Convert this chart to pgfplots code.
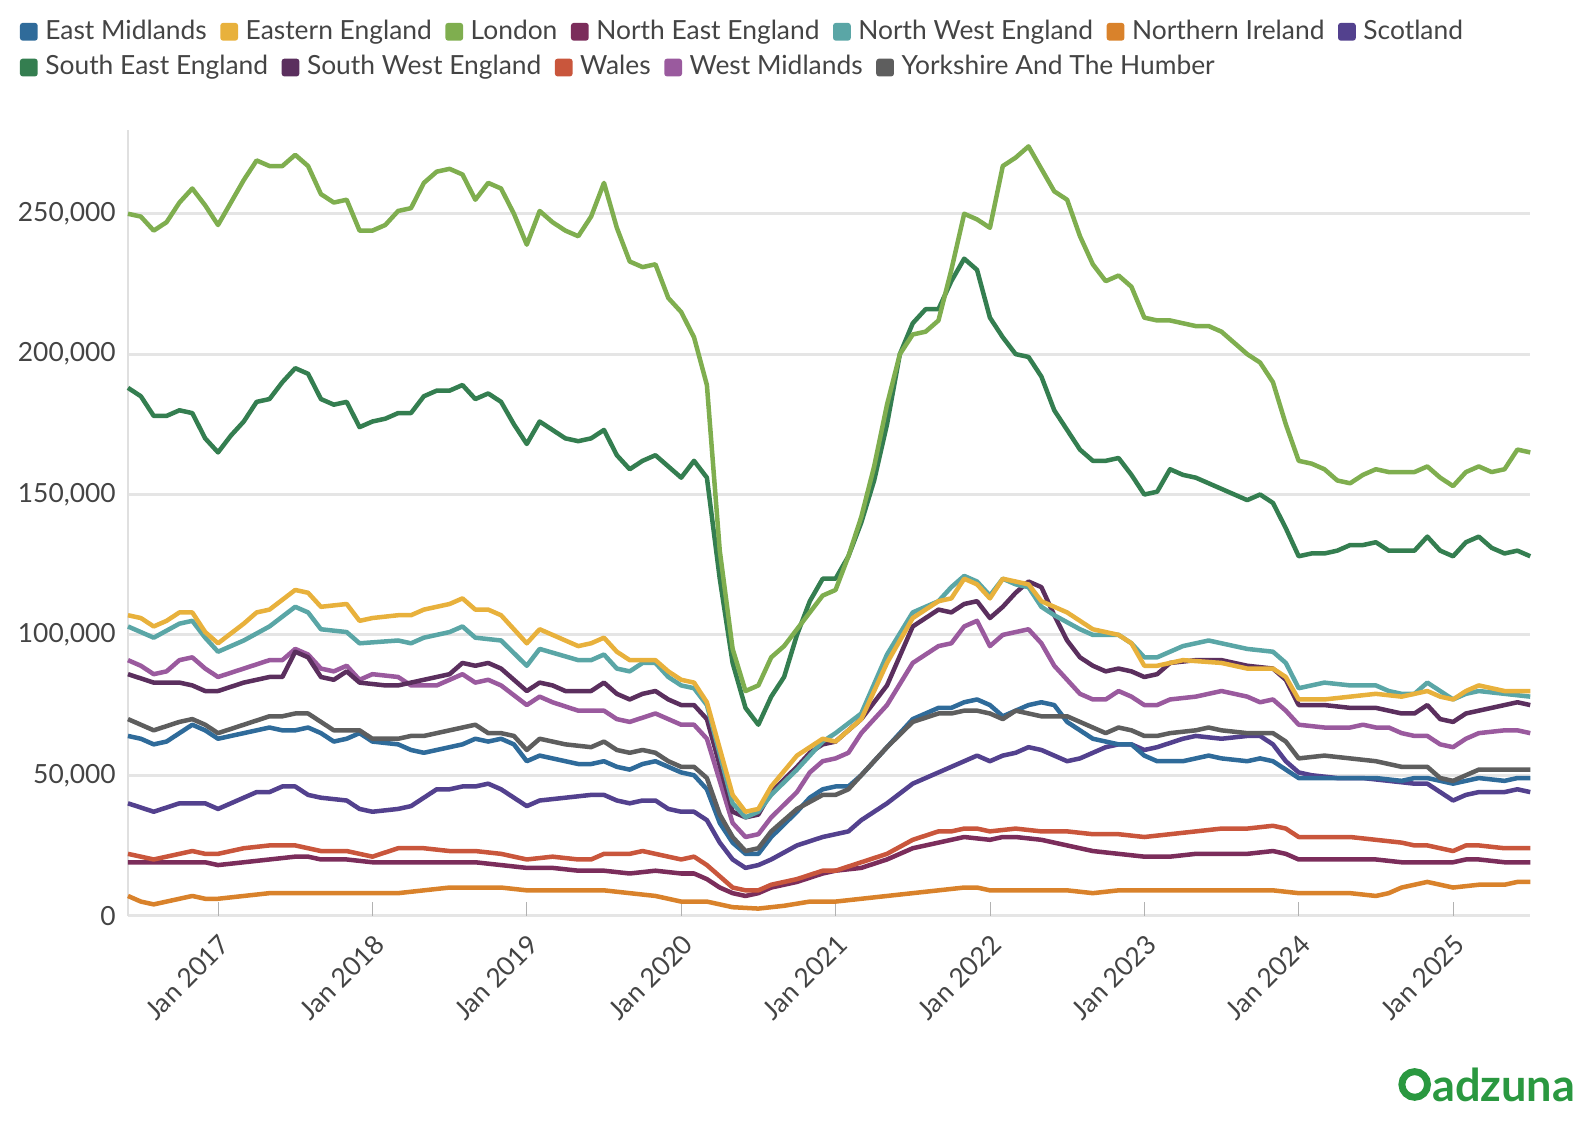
\documentclass[border=0pt]{standalone}
\usepackage{pgfplots}
\pgfplotsset{compat=1.18}
\usetikzlibrary{calc}
\usepackage{fontspec}
\setmainfont{Lato}
\definecolor{cEM}{HTML}{2F6B9A}
\definecolor{cEE}{HTML}{E8B13C}
\definecolor{cLO}{HTML}{7FAE4F}
\definecolor{cNE}{HTML}{7B2D5B}
\definecolor{cNW}{HTML}{5AA6A6}
\definecolor{cNI}{HTML}{D9822B}
\definecolor{cSC}{HTML}{53418E}
\definecolor{cSE}{HTML}{347E50}
\definecolor{cSW}{HTML}{5B2F5E}
\definecolor{cWA}{HTML}{C9563C}
\definecolor{cWM}{HTML}{9A5A9E}
\definecolor{cYH}{HTML}{5E5E5E}
\definecolor{txt}{HTML}{444444}
\newcommand\lf{\fontsize{7.6}{9.2}\selectfont\color{txt}}
\newcommand\li[2]{\fill[#1,rounded corners=0.8pt] ($(p)+(0,-0.09)$) rectangle ++(0.18,0.18);
 \node[anchor=west,inner sep=0,font=\lf] (t) at ($(p)+(0.25,0)$) {\vphantom{Ag}#2};
 \path (t.east) ++(0.13,0) coordinate (p);}
\begin{document}
\begin{tikzpicture}
\useasboundingbox (-1.296,-2.248) rectangle (14.704,9.272);
\begin{axis}[at={(0,0)},anchor=south west,scale only axis,width=14.2cm,height=7.96cm,
 xmin=-7,xmax=102,ymin=0,ymax=280,
 axis x line*=bottom, axis y line*=left, x axis line style={draw=none},
 y axis line style={draw=black!12},
 xtick={0,12,...,96},
 xticklabels={Jan 2017,Jan 2018,Jan 2019,Jan 2020,Jan 2021,Jan 2022,Jan 2023,Jan 2024,Jan 2025},
 x tick label style={rotate=45,anchor=north east,font=\lf},
 xtick style={draw=black!30}, major tick length=4pt,
 ytick={0,50,100,150,200,250},
 yticklabels={0,{50,000},{100,000},{150,000},{200,000},{250,000}},
 y tick label style={font=\lf}, ytick style={draw=none},
 ymajorgrids, grid style={black!10,line width=0.8pt},
 every axis plot/.append style={line width=1.3pt,line join=round},
 clip=false]
\addplot[cNI] coordinates {(-7,7)(-6,5)(-5,4)(-4,5)(-3,6)(-2,7)(-1,6)(0,6)(2,7)(4,8)(6,8)(10,8)(12,8)(14,8)(16,9)(18,10)(20,10)(22,10)(24,9)(26,9)(30,9)(32,8)(34,7)(36,5)(38,5)(39,4)(40,3)(42,2.5)(44,3.5)(46,5)(48,5)(50,6)(52,7)(54,8)(56,9)(58,10)(59,10)(60,9)(62,9)(64,9)(66,9)(68,8)(70,9)(72,9)(76,9)(80,9)(82,9)(84,8)(86,8)(88,8)(90,7)(91,8)(92,10)(93,11)(94,12)(95,11)(96,10)(98,11)(100,11)(101,12)(102,12)};
\addplot[cNE] coordinates {(-7,19)(-5,19)(-3,19)(-1,19)(0,18)(2,19)(4,20)(6,21)(7,21)(8,20)(10,20)(12,19)(14,19)(16,19)(18,19)(20,19)(22,18)(24,17)(26,17)(28,16)(30,16)(32,15)(34,16)(36,15)(37,15)(38,13)(39,10)(40,8)(41,7)(42,8)(43,10)(45,12)(47,15)(48,16)(50,17)(52,20)(54,24)(56,26)(58,28)(60,27)(61,28)(62,28)(64,27)(66,25)(68,23)(70,22)(72,21)(74,21)(76,22)(78,22)(80,22)(82,23)(83,22)(84,20)(86,20)(88,20)(90,20)(92,19)(94,19)(96,19)(97,20)(98,20)(100,19)(102,19)};
\addplot[cWA] coordinates {(-7,22)(-5,20)(-3,22)(-2,23)(-1,22)(0,22)(2,24)(4,25)(6,25)(7,24)(8,23)(10,23)(11,22)(12,21)(14,24)(16,24)(18,23)(20,23)(22,22)(24,20)(26,21)(28,20)(29,20)(30,22)(32,22)(33,23)(34,22)(35,21)(36,20)(37,21)(38,18)(39,14)(40,10)(41,9)(42,9)(43,11)(45,13)(47,16)(48,16)(50,19)(52,22)(54,27)(56,30)(57,30)(58,31)(59,31)(60,30)(62,31)(64,30)(66,30)(68,29)(70,29)(72,28)(74,29)(76,30)(78,31)(80,31)(82,32)(83,31)(84,28)(86,28)(88,28)(90,27)(92,26)(93,25)(94,25)(95,24)(96,23)(97,25)(98,25)(100,24)(102,24)};
\addplot[cSC] coordinates {(-7,40)(-5,37)(-3,40)(-1,40)(0,38)(2,42)(3,44)(4,44)(5,46)(6,46)(7,43)(8,42)(10,41)(11,38)(12,37)(14,38)(15,39)(16,42)(17,45)(18,45)(19,46)(20,46)(21,47)(22,45)(23,42)(24,39)(25,41)(27,42)(29,43)(30,43)(31,41)(32,40)(33,41)(34,41)(35,38)(36,37)(37,37)(38,34)(39,26)(40,20)(41,17)(42,18)(43,20)(45,25)(47,28)(48,29)(49,30)(50,34)(52,40)(54,47)(56,51)(57,53)(58,55)(59,57)(60,55)(61,57)(62,58)(63,60)(64,59)(65,57)(66,55)(67,56)(68,58)(69,60)(70,61)(71,61)(72,59)(73,60)(75,63)(76,64)(78,63)(80,64)(81,64)(82,61)(83,55)(84,51)(85,50)(87,49)(89,49)(91,48)(93,47)(94,47)(95,44)(96,41)(97,43)(98,44)(100,44)(101,45)(102,44)};
\addplot[cEM] coordinates {(-7,64)(-6,63)(-5,61)(-4,62)(-3,65)(-2,68)(-1,66)(0,63)(2,65)(4,67)(5,66)(6,66)(7,67)(8,65)(9,62)(10,63)(11,65)(12,62)(14,61)(15,59)(16,58)(17,59)(18,60)(19,61)(20,63)(21,62)(22,63)(23,61)(24,55)(25,57)(26,56)(27,55)(28,54)(29,54)(30,55)(31,53)(32,52)(33,54)(34,55)(35,53)(36,51)(37,50)(38,45)(39,33)(40,26)(41,22)(42,22)(43,28)(45,37)(46,42)(47,45)(48,46)(49,46)(50,50)(52,60)(54,70)(56,74)(57,74)(58,76)(59,77)(60,75)(61,71)(62,73)(63,75)(64,76)(65,75)(66,69)(67,66)(68,63)(69,62)(70,61)(71,61)(72,57)(73,55)(75,55)(76,56)(77,57)(78,56)(80,55)(81,56)(82,55)(83,52)(84,49)(86,49)(88,49)(90,49)(92,48)(93,49)(94,49)(95,48)(96,47)(97,48)(98,49)(100,48)(101,49)(102,49)};
\addplot[cYH] coordinates {(-7,70)(-5,66)(-3,69)(-2,70)(-1,68)(0,65)(2,68)(4,71)(5,71)(6,72)(7,72)(8,69)(9,66)(11,66)(12,63)(14,63)(15,64)(16,64)(17,65)(18,66)(19,67)(20,68)(21,65)(22,65)(23,64)(24,59)(25,63)(26,62)(27,61)(29,60)(30,62)(31,59)(32,58)(33,59)(34,58)(35,55)(36,53)(37,53)(38,49)(39,36)(40,28)(41,23)(42,24)(43,30)(45,38)(47,43)(48,43)(49,45)(50,50)(52,60)(54,69)(56,72)(57,72)(58,73)(59,73)(60,72)(61,70)(62,73)(64,71)(66,71)(67,69)(68,67)(69,65)(70,67)(71,66)(72,64)(73,64)(74,65)(76,66)(77,67)(78,66)(80,65)(82,65)(83,62)(84,56)(86,57)(88,56)(90,55)(92,53)(93,53)(94,53)(95,49)(96,48)(97,50)(98,52)(100,52)(101,52)(102,52)};
\addplot[cWM] coordinates {(-7,91)(-6,89)(-5,86)(-4,87)(-3,91)(-2,92)(-1,88)(0,85)(2,88)(4,91)(5,91)(6,95)(7,93)(8,88)(9,87)(10,89)(11,84)(12,86)(14,85)(15,82)(17,82)(18,84)(19,86)(20,83)(21,84)(22,82)(24,75)(25,78)(26,76)(28,73)(30,73)(31,70)(32,69)(34,72)(35,70)(36,68)(37,68)(38,63)(40,33)(41,28)(42,29)(43,35)(45,44)(46,51)(47,55)(48,56)(49,58)(50,65)(52,75)(54,90)(56,96)(57,97)(58,103)(59,105)(60,96)(61,100)(62,101)(63,102)(64,97)(65,89)(66,84)(67,79)(68,77)(69,77)(70,80)(71,78)(72,75)(73,75)(74,77)(76,78)(77,79)(78,80)(80,78)(81,76)(82,77)(83,73)(84,68)(86,67)(88,67)(89,68)(90,67)(91,67)(92,65)(93,64)(94,64)(95,61)(96,60)(97,63)(98,65)(100,66)(101,66)(102,65)};
\addplot[cSW] coordinates {(-7,86)(-5,83)(-3,83)(-2,82)(-1,80)(0,80)(2,83)(4,85)(5,85)(6,94)(7,92)(8,85)(9,84)(10,87)(11,83)(13,82)(14,82)(16,84)(18,86)(19,90)(20,89)(21,90)(22,88)(24,80)(25,83)(26,82)(27,80)(29,80)(30,83)(31,79)(32,77)(33,79)(34,80)(35,77)(36,75)(37,75)(38,70)(40,37)(41,35)(42,36)(43,44)(45,53)(46,58)(47,61)(48,62)(50,70)(52,82)(54,103)(56,109)(57,108)(58,111)(59,112)(60,106)(61,110)(62,115)(63,119)(64,117)(65,107)(66,98)(67,92)(68,89)(69,87)(70,88)(71,87)(72,85)(73,86)(74,90)(76,91)(78,91)(80,89)(82,88)(83,84)(84,75)(86,75)(88,74)(90,74)(92,72)(93,72)(94,75)(95,70)(96,69)(97,72)(98,73)(100,75)(101,76)(102,75)};
\addplot[cNW] coordinates {(-7,103)(-5,99)(-3,104)(-2,105)(-1,99)(0,94)(2,98)(4,103)(6,110)(7,108)(8,102)(10,101)(11,97)(14,98)(15,97)(16,99)(18,101)(19,103)(20,99)(22,98)(24,89)(25,95)(28,91)(29,91)(30,93)(31,88)(32,87)(33,90)(34,90)(35,85)(36,82)(37,81)(38,75)(40,40)(41,35)(42,37)(43,43)(45,52)(47,62)(48,65)(50,72)(52,93)(54,108)(56,112)(57,117)(58,121)(59,119)(60,114)(61,120)(62,118)(63,117)(64,110)(65,107)(67,102)(68,100)(70,100)(71,97)(72,92)(73,92)(75,96)(77,98)(78,97)(80,95)(82,94)(83,90)(84,81)(86,83)(88,82)(90,82)(91,80)(92,79)(93,79)(94,83)(95,80)(96,77)(97,79)(98,80)(100,79)(102,78)};
\addplot[cEE] coordinates {(-7,107)(-6,106)(-5,103)(-4,105)(-3,108)(-2,108)(-1,101)(0,97)(2,104)(3,108)(4,109)(6,116)(7,115)(8,110)(10,111)(11,105)(12,106)(14,107)(15,107)(16,109)(18,111)(19,113)(20,109)(21,109)(22,107)(23,102)(24,97)(25,102)(26,100)(28,96)(29,97)(30,99)(31,94)(32,91)(34,91)(35,87)(36,84)(37,83)(38,76)(40,43)(41,37)(42,38)(43,46)(45,57)(47,63)(48,62)(50,70)(52,90)(54,106)(56,112)(57,113)(58,120)(59,118)(60,113)(61,120)(62,119)(63,118)(64,112)(65,110)(66,108)(68,102)(70,100)(71,97)(72,89)(73,89)(75,91)(78,90)(80,88)(82,88)(83,85)(84,77)(86,77)(88,78)(90,79)(92,78)(94,80)(95,78)(96,77)(97,80)(98,82)(100,80)(102,80)};
\addplot[cSE] coordinates {(-7,188)(-6,185)(-5,178)(-4,178)(-3,180)(-2,179)(-1,170)(0,165)(1,171)(2,176)(3,183)(4,184)(5,190)(6,195)(7,193)(8,184)(9,182)(10,183)(11,174)(12,176)(13,177)(14,179)(15,179)(16,185)(17,187)(18,187)(19,189)(20,184)(21,186)(22,183)(23,175)(24,168)(25,176)(26,173)(27,170)(28,169)(29,170)(30,173)(31,164)(32,159)(33,162)(34,164)(35,160)(36,156)(37,162)(38,156)(39,120)(40,90)(41,74)(42,68)(43,78)(44,85)(45,100)(46,112)(47,120)(48,120)(49,128)(50,140)(51,155)(52,175)(53,200)(54,211)(55,216)(56,216)(57,226)(58,234)(59,230)(60,213)(61,206)(62,200)(63,199)(64,192)(65,180)(66,173)(67,166)(68,162)(69,162)(70,163)(71,157)(72,150)(73,151)(74,159)(75,157)(76,156)(77,154)(78,152)(79,150)(80,148)(81,150)(82,147)(83,138)(84,128)(85,129)(86,129)(87,130)(88,132)(89,132)(90,133)(91,130)(92,130)(93,130)(94,135)(95,130)(96,128)(97,133)(98,135)(99,131)(100,129)(101,130)(102,128)};
\addplot[cLO] coordinates {(-7,250)(-6,249)(-5,244)(-4,247)(-3,254)(-2,259)(-1,253)(0,246)(1,254)(2,262)(3,269)(4,267)(5,267)(6,271)(7,267)(8,257)(9,254)(10,255)(11,244)(12,244)(13,246)(14,251)(15,252)(16,261)(17,265)(18,266)(19,264)(20,255)(21,261)(22,259)(23,250)(24,239)(25,251)(26,247)(27,244)(28,242)(29,249)(30,261)(31,245)(32,233)(33,231)(34,232)(35,220)(36,215)(37,206)(38,189)(39,130)(40,95)(41,80)(42,82)(43,92)(44,96)(45,102)(46,108)(47,114)(48,116)(49,128)(50,142)(51,160)(52,182)(53,200)(54,207)(55,208)(56,212)(57,230)(58,250)(59,248)(60,245)(61,267)(62,270)(63,274)(64,266)(65,258)(66,255)(67,242)(68,232)(69,226)(70,228)(71,224)(72,213)(73,212)(74,212)(75,211)(76,210)(77,210)(78,208)(79,204)(80,200)(81,197)(82,190)(83,175)(84,162)(85,161)(86,159)(87,155)(88,154)(89,157)(90,159)(91,158)(92,158)(93,158)(94,160)(95,156)(96,153)(97,158)(98,160)(99,158)(100,159)(101,166)(102,165)};
\end{axis}
\coordinate (p) at (-1.094,8.95);
\li{cEM}{East Midlands}\li{cEE}{Eastern England}\li{cLO}{London}\li{cNE}{North East England}\li{cNW}{North West England}\li{cNI}{Northern Ireland}\li{cSC}{Scotland}
\coordinate (p) at (-1.094,8.588);
\li{cSE}{South East England}\li{cSW}{South West England}\li{cWA}{Wales}\li{cWM}{West Midlands}\li{cYH}{Yorkshire And The Humber}
\draw[cSE!80!green,line width=2pt] (13.03,-1.71) circle (0.13);
\node[anchor=west,inner sep=0,font=\fontsize{13}{14}\selectfont\bfseries,text=cSE!80!green] at (13.2,-1.71) {adzuna};
\end{tikzpicture}
\end{document}
